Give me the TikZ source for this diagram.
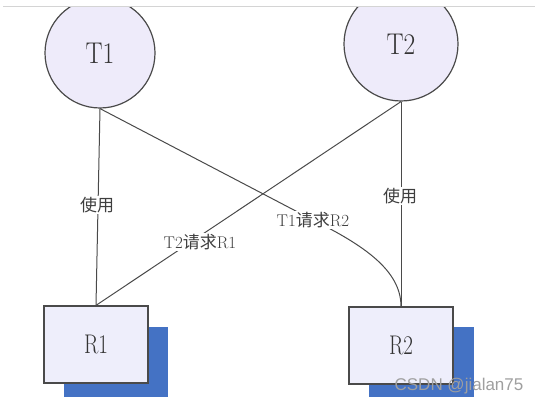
\documentclass[tikz,border=0pt]{standalone}
\usepackage{fontspec}
\usepackage{graphicx}
\newfontfamily\cjk{Noto Sans CJK SC}
\newfontfamily\wmfont{Liberation Sans}
\definecolor{lav}{HTML}{EEEBFA}
\definecolor{boxfill}{HTML}{EEEEFB}
\definecolor{edge}{HTML}{4A4A4A}
\definecolor{ink}{HTML}{333333}
\definecolor{shadowblue}{HTML}{4472C4}
\definecolor{topgray}{HTML}{D4D4D4}
\begin{document}
\begin{tikzpicture}[x=1pt,y=-1pt,
  task/.style={circle,draw=edge,line width=1.2pt,fill=lav,inner sep=0pt,text=ink,
    font=\fontsize{30}{30}\selectfont},
  res/.style={rectangle,draw=edge,line width=1.2pt,fill=boxfill,inner sep=0pt,
    minimum width=104pt,minimum height=77pt,text=ink,font=\fontsize{27}{27}\selectfont},
  conn/.style={draw=edge,line width=1pt},
  lab/.style={fill=white,inner sep=1.5pt,text=ink!85!gray,font=\fontsize{17}{17}\selectfont},
  shade/.style={fill=shadowblue}]
\useasboundingbox (0,0) rectangle (539,406);
\fill[white] (0,0) rectangle (539,406);
\draw[topgray,line width=1pt] (3,7) -- (535,7);
\begin{scope}
\clip (0,7.6) rectangle (539,397);
\fill[shade] (64,327) rectangle (168,410);
\fill[shade] (369,327) rectangle (474,410);
\node[task,minimum size=110pt] (T1) at (100,53) {\scalebox{0.85}[1]{T1}};
\node[task,minimum size=114pt] (T2) at (401,44) {\scalebox{0.85}[1]{T2}};
\end{scope}
\node[res] (R1) at (96,344.5) {\scalebox{0.78}[1]{R1}};
\node[res] (R2) at (401,345.5) {\scalebox{0.78}[1]{R2}};
\coordinate (k) at (313,220);
\draw[conn] (T1.south) -- (R1.north);
\draw[conn] (T2.south) -- (R2.north);
\draw[conn] (T2.south) -- (R1.north);
\draw[conn] (T1.south) -- (k) .. controls (363,245) and (401,270) .. (R2.north);
\node[lab] (u1) at (97,205) {\cjk 使用};
\node[lab] (u2) at (400,196) {\cjk 使用};
\node[lab] (q1) at (200,242) {T2{\cjk 请求}R1};
\node[lab] (q2) at (313,220) {T1{\cjk 请求}R2};
\node[text=gray!75,font=\wmfont\fontsize{17}{17}\selectfont] (wm) at (459,386) {CSDN @jialan75};
\end{tikzpicture}
\end{document}
